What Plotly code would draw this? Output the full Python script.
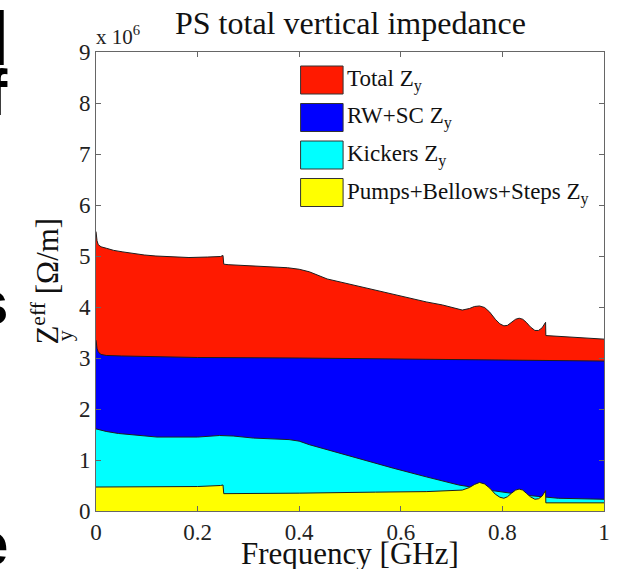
import plotly.graph_objects as go

# ---------------- data (values in units of 1e6 Ohm/m) ----------------
freq_total = [0.0, 0.002, 0.0045, 0.01, 0.021, 0.035, 0.053, 0.072, 0.095, 0.118,
              0.15, 0.183, 0.22, 0.245, 0.250, 0.2515, 0.26, 0.313, 0.377, 0.40,
              0.42, 0.455, 0.52, 0.585, 0.65, 0.682, 0.721, 0.735, 0.745, 0.755,
              0.765, 0.775, 0.786, 0.795, 0.803, 0.81, 0.818, 0.826, 0.833, 0.84,
              0.847, 0.855, 0.864, 0.871, 0.878, 0.885, 0.8855, 0.9, 0.942, 1.0]
z_total = [5.48, 5.30, 5.22, 5.18, 5.15, 5.11, 5.08, 5.05, 5.02, 5.00,
           4.99, 4.97, 4.98, 4.99, 5.01, 4.84, 4.83, 4.80, 4.77, 4.74,
           4.69, 4.55, 4.40, 4.24, 4.10, 4.04, 3.94, 3.97, 4.01, 4.02,
           3.99, 3.90, 3.76, 3.67, 3.63, 3.64, 3.70, 3.76, 3.78, 3.76,
           3.70, 3.61, 3.54, 3.54, 3.59, 3.70, 3.44, 3.43, 3.40, 3.37]

freq_rw = [0.0, 0.001, 0.002, 0.004, 0.006, 0.01, 0.02, 0.05, 0.1, 0.2, 0.4, 0.7, 1.0]
z_rw = [3.35, 3.26, 3.19, 3.13, 3.10, 3.07, 3.05, 3.04, 3.03, 3.01, 3.00, 2.97, 2.94]

freq_kick = [0.0, 0.02, 0.044, 0.08, 0.12, 0.2, 0.243, 0.27, 0.31, 0.38,
             0.40, 0.42, 0.455, 0.52, 0.585, 0.65, 0.714, 0.78, 0.845, 0.91, 1.0]
z_kick = [1.61, 1.56, 1.52, 1.48, 1.45, 1.45, 1.48, 1.47, 1.43, 1.40,
          1.37, 1.30, 1.20, 1.02, 0.84, 0.67, 0.51, 0.40, 0.31, 0.25, 0.23]

freq_pump = [0.0, 0.1, 0.2, 0.245, 0.250, 0.2515, 0.3, 0.4, 0.55, 0.65,
             0.721, 0.735, 0.745, 0.755, 0.765, 0.775, 0.786, 0.795, 0.803, 0.81,
             0.818, 0.826, 0.833, 0.84, 0.847, 0.855, 0.864, 0.871, 0.878, 0.885,
             0.8855, 1.0]
z_pump = [0.47, 0.47, 0.48, 0.50, 0.51, 0.34, 0.34, 0.35, 0.37, 0.38,
          0.41, 0.46, 0.52, 0.56, 0.53, 0.45, 0.33, 0.27, 0.25, 0.28,
          0.35, 0.41, 0.43, 0.41, 0.35, 0.28, 0.23, 0.24, 0.29, 0.40,
          0.16, 0.16]

series_names = ["Total Z<sub>y</sub>", "RW+SC Z<sub>y</sub>", "Kickers Z<sub>y</sub>",
                "Pumps+Bellows+Steps Z<sub>y</sub>"]
series_colors = ["#ff1a00", "#0000ff", "#00ffff", "#ffff00"]

x_ticks = [0, 0.2, 0.4, 0.6, 0.8, 1]
x_ticklabels = ["0", "0.2", "0.4", "0.6", "0.8", "1"]
y_ticks = [0, 1, 2, 3, 4, 5, 6, 7, 8, 9]

# ---------------- layout geometry ----------------
W, H = 617, 569
L, R, T, B = 96, 7, 52, 58
PW, PH = W - L - R, H - T - B
FONT = "Liberation Serif"


def px(x):
    return (x - L) / PW


def py(y):
    return (H - B - y) / PH


fig = go.Figure()
for xs, ys, name, col in zip([freq_total, freq_rw, freq_kick, freq_pump],
                             [z_total, z_rw, z_kick, z_pump],
                             series_names, series_colors):
    fig.add_trace(go.Scatter(x=xs, y=ys, name=name, mode="lines", fill="tozeroy",
                             fillcolor=col, line=dict(color="#1e1e1e", width=1),
                             showlegend=False, hoverinfo="skip"))

axis_common = dict(showline=True, linecolor="#666", linewidth=1, mirror="ticks",
                   ticks="inside", ticklen=5, tickcolor="#666", showgrid=False,
                   zeroline=False,
                   tickfont=dict(family=FONT, size=23, color="#222"))
fig.update_xaxes(range=[0, 1], tickvals=x_ticks, ticktext=x_ticklabels, **axis_common)
fig.update_yaxes(range=[0, 9], tickvals=y_ticks, **axis_common)

annotations = []
shapes = []
# title
annotations.append(dict(text="PS total vertical impedance", xref="paper", yref="paper",
                        x=px(353), y=py(43), xanchor="center", yanchor="bottom",
                        showarrow=False, font=dict(family=FONT, size=32, color="#111")))
# x label
annotations.append(dict(text="Frequency [GHz]", xref="paper", yref="paper",
                        x=px(353), y=py(573), xanchor="center", yanchor="bottom",
                        showarrow=False, font=dict(family=FONT, size=31, color="#111")))
# y label
annotations.append(dict(text="Z<sup>eff</sup> [Ω/m]", xref="paper", yref="paper",
                        x=px(44), y=py(281), xanchor="center", yanchor="middle",
                        textangle=-90, showarrow=False,
                        font=dict(family=FONT, size=31, color="#111")))
annotations.append(dict(text="y", xref="paper", yref="paper",
                        x=px(64), y=py(336), xanchor="center", yanchor="middle",
                        textangle=-90, showarrow=False,
                        font=dict(family=FONT, size=22, color="#111")))
# exponent
annotations.append(dict(text="x 10<sup>6</sup>", xref="paper", yref="paper",
                        x=px(94), y=py(51), xanchor="left", yanchor="bottom",
                        showarrow=False, font=dict(family=FONT, size=21, color="#222")))
# custom legend
row_tops = [66, 103.5, 141, 178.5]
for name, col, top in zip(series_names, series_colors, row_tops):
    shapes.append(dict(type="rect", xref="paper", yref="paper",
                       x0=px(303), x1=px(346), y0=py(top), y1=py(top + 28),
                       fillcolor=col, line=dict(color="#333", width=1)))
    annotations.append(dict(text=name, xref="paper", yref="paper",
                            x=px(348), y=py(top - 2), xanchor="left", yanchor="top",
                            showarrow=False, font=dict(family=FONT, size=23, color="#111")))
# cropped slide text at the left edge
for ch, xr, ybase, size in [("l", 10, 66, 76), ("f", 9, 117, 64), ("s", 9, 325, 62),
                            ("e", 9, 566, 62)]:
    annotations.append(dict(text="<b>%s</b>" % ch, xref="paper", yref="paper",
                            x=px(xr), y=py(ybase + 0.22 * size), xanchor="right",
                            yanchor="bottom", showarrow=False,
                            font=dict(family="Liberation Sans", size=size, color="#000")))

fig.update_layout(width=W, height=H, margin=dict(l=L, r=R, t=T, b=B),
                  paper_bgcolor="white", plot_bgcolor="white",
                  font=dict(family=FONT),
                  annotations=annotations, shapes=shapes, showlegend=False)

fig.write_html("out.html")
